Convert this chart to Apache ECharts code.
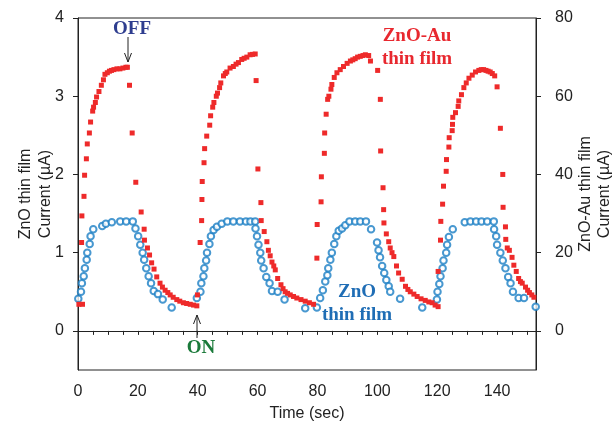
<!DOCTYPE html>
<html>
<head>
<meta charset="utf-8">
<title>ZnO / ZnO-Au photocurrent</title>
<script src="https://cdn.jsdelivr.net/npm/echarts@6/dist/echarts.min.js"></script>
<style>
  html, body { margin: 0; padding: 0; background: #fff; }
  #chart { width: 613px; height: 422px; }
</style>
</head>
<body>
<div id="chart"></div>
<script>
  // ZnO thin film, current in uA (left axis) : [time s, current]
  const znoPoints = [
    [0.1, 0.41], [1.0, 0.50], [1.3, 0.61], [1.9, 0.70], [2.3, 0.80], [2.9, 0.91], [3.1, 1.00],
    [3.9, 1.11], [4.2, 1.21], [5.1, 1.30], [8.1, 1.34], [9.3, 1.37], [11.3, 1.39], [14.1, 1.40],
    [16.1, 1.40], [18.3, 1.40], [19.2, 1.31], [20.1, 1.21], [20.8, 1.10], [21.6, 1.00], [22.1, 0.91],
    [22.8, 0.80], [23.6, 0.70], [24.4, 0.61], [25.3, 0.51], [26.7, 0.47], [28.3, 0.40], [31.3, 0.30],

    [39.7, 0.42], [40.9, 0.50], [41.2, 0.61], [41.9, 0.70], [42.2, 0.80], [42.8, 0.90], [43.1, 1.00],
    [43.9, 1.11], [44.4, 1.21], [45.3, 1.29], [46.4, 1.33], [48.0, 1.37], [49.9, 1.40], [51.9, 1.40],
    [54.1, 1.40], [56.1, 1.40], [57.6, 1.40], [59.2, 1.40], [59.3, 1.31], [59.8, 1.21], [60.3, 1.10],
    [60.9, 1.00], [61.2, 0.90], [62.0, 0.80], [62.9, 0.69], [64.0, 0.61], [64.8, 0.51], [66.7, 0.50],
    [69.0, 0.40], [75.9, 0.29],

    [79.8, 0.30], [80.9, 0.42], [81.8, 0.52], [82.6, 0.63], [83.3, 0.71], [83.6, 0.80], [84.3, 0.91],
    [84.8, 1.00], [85.6, 1.11], [86.3, 1.21], [87.1, 1.28], [88.2, 1.31], [89.3, 1.35], [90.7, 1.40],
    [92.6, 1.40], [94.3, 1.40], [96.2, 1.40], [97.9, 1.30], [99.9, 1.13], [100.4, 1.03], [100.9, 0.94],
    [101.6, 0.83], [102.3, 0.74], [103.0, 0.65], [103.8, 0.57], [104.3, 0.50], [107.6, 0.41], [115.0, 0.30],

    [119.9, 0.40], [120.1, 0.50], [120.7, 0.60], [121.1, 0.70], [121.8, 0.80], [122.1, 0.90], [123.0, 1.00],
    [123.3, 1.10], [123.9, 1.20], [125.2, 1.30], [129.2, 1.39], [131.1, 1.40], [133.0, 1.40], [134.8, 1.40],
    [136.7, 1.40], [138.9, 1.40], [139.0, 1.30], [139.7, 1.21], [140.0, 1.10], [141.1, 1.00], [141.9, 0.90],
    [142.8, 0.80], [143.7, 0.69], [144.5, 0.61], [145.3, 0.50], [147.2, 0.42], [149.0, 0.42], [152.9, 0.31]
  ]

  // ZnO-Au thin film, current in uA (right axis) : [time s, current]
  const znoAuPoints = [
    [0.3, 6.8], [1.5, 6.8], [1.2, 22.6], [1.3, 29.4], [2.0, 34.4], [2.2, 39.8], [2.8, 44.0], [3.1, 47.8],
    [3.8, 50.6], [4.2, 53.4], [4.9, 56.2], [5.2, 57.2], [5.8, 58.4], [6.2, 59.8], [7.0, 61.2], [7.8, 62.8],
    [8.5, 64.2], [9.0, 65.6], [9.8, 66.0], [10.5, 66.4], [11.2, 66.6], [12.0, 66.8], [13.0, 67.0],
    [14.0, 67.0], [15.0, 67.2], [16.0, 67.4], [16.5, 67.4],
    [17.2, 62.8], [18.1, 50.6], [19.3, 38.0], [21.1, 30.4], [22.1, 26.0], [22.2, 23.2], [23.2, 21.2],
    [23.9, 19.4], [24.6, 17.4], [25.4, 15.8], [26.3, 13.8], [27.4, 12.2], [28.2, 11.2], [29.1, 10.4],
    [30.0, 9.8], [30.8, 9.2], [31.8, 8.6], [33.0, 8.0], [34.0, 7.6], [35.2, 7.2], [36.3, 7.0],
    [37.5, 6.8], [38.6, 6.6], [39.7, 6.4],

    [39.9, 9.2], [40.8, 22.6], [41.3, 28.2], [41.4, 33.6], [41.5, 38.2], [42.1, 43.0], [42.3, 46.6],
    [43.0, 49.8], [44.0, 52.6], [44.3, 55.0], [45.0, 57.2], [45.4, 58.4], [46.2, 60.0], [46.6, 60.8],
    [47.3, 62.2], [47.7, 63.4], [48.6, 65.2], [49.2, 65.8], [49.7, 66.2], [50.8, 67.2], [51.9, 67.6],
    [52.8, 68.2], [53.6, 68.6], [54.7, 69.4], [55.5, 69.7], [56.4, 70.0], [57.5, 70.6], [58.3, 70.7],
    [59.2, 70.8],
    [59.5, 64.0], [60.1, 41.4], [61.1, 32.8], [61.2, 28.2], [62.2, 25.4], [63.1, 22.8], [63.6, 20.6],
    [64.2, 19.2], [64.8, 17.6], [65.4, 16.6], [65.9, 15.6], [66.7, 13.4], [67.8, 11.8], [68.5, 10.8],
    [69.2, 10.0], [70.0, 9.6], [70.9, 9.2], [72.0, 8.8], [73.1, 8.4], [74.5, 8.0], [75.9, 7.6],
    [77.3, 7.2], [78.7, 6.8],

    [79.8, 18.6], [79.9, 27.2], [81.2, 33.0], [81.3, 39.4], [82.3, 45.4], [82.4, 50.6], [82.9, 55.4],
    [83.4, 59.2], [83.8, 60.0], [84.5, 61.8], [84.8, 63.0], [85.6, 64.8], [86.5, 66.0], [87.6, 66.8],
    [88.7, 67.6], [89.9, 68.4], [91.0, 69.0], [91.8, 69.3], [92.6, 69.6], [93.4, 70.0], [94.3, 70.2],
    [95.2, 70.4], [96.0, 70.6], [97.1, 70.4], [97.7, 69.0],
    [100.1, 66.6], [101.0, 59.2], [101.1, 46.0], [101.9, 36.6], [102.1, 31.0], [102.2, 27.6],
    [103.0, 24.8], [103.8, 22.8], [104.3, 21.2], [104.9, 20.0], [105.5, 19.0], [106.4, 16.6],
    [107.1, 14.8], [108.3, 13.2], [109.4, 11.4], [110.2, 10.6], [111.0, 10.0], [112.2, 9.4],
    [113.3, 8.8], [114.6, 8.2], [116.0, 7.8], [117.2, 7.4], [118.3, 7.2], [119.3, 6.6], [120.3, 6.2],

    [120.3, 15.2], [121.1, 23.2], [121.2, 28.0], [121.8, 32.4], [122.1, 37.0], [123.0, 40.8],
    [123.1, 43.8], [123.9, 47.0], [124.0, 49.4], [125.0, 51.2], [125.1, 52.8], [125.2, 54.6],
    [126.1, 55.8], [127.0, 57.4], [127.2, 58.8], [128.1, 60.4], [128.9, 62.2], [129.7, 63.4],
    [130.6, 64.6], [131.7, 65.4], [132.8, 66.2], [133.9, 66.6], [134.7, 66.8], [135.5, 66.8],
    [136.3, 66.6], [137.0, 66.4], [137.7, 66.2], [138.4, 65.8], [139.2, 65.2],
    [140.0, 62.4], [141.1, 51.8], [141.9, 40.0], [142.0, 31.6], [142.8, 26.6], [142.9, 23.4],
    [143.4, 21.2], [144.1, 20.6], [145.0, 18.8], [145.6, 16.8], [146.4, 15.2], [147.2, 13.4],
    [147.8, 12.6], [148.4, 12.2], [149.5, 11.2], [150.2, 10.4], [150.8, 9.8], [151.6, 9.2], [152.3, 8.6]
  ]

  const timeLabels = [0, 20, 40, 60, 80, 100, 120, 140]
  const timeTicks = [0, 5, 10, 15, 20, 25, 30, 35, 40, 45, 50, 55, 60, 65, 70, 75, 80, 85, 90, 95,
    100, 105, 110, 115, 120, 125, 130, 135, 140, 145, 150]
  const znoTicks = [0, 1, 2, 3, 4]
  const znoAuTicks = [0, 20, 40, 60, 80]

  const axisColor = '#222'
  const labelFont = { fontFamily: 'Liberation Sans', fontSize: 16, color: '#222' }
  const noteFont = 'bold 19px "Liberation Serif"'

  function arrow(x, y1, y2) {
    const dir = y2 > y1 ? -1 : 1
    return [
      { type: 'line', shape: { x1: x, y1: y1, x2: x, y2: y2 }, style: { stroke: '#222', lineWidth: 1 } },
      { type: 'polyline', shape: { points: [[x - 3.5, y2 + dir * 9], [x, y2], [x + 3.5, y2 + dir * 9]] },
        style: { stroke: '#222', lineWidth: 1, fill: null } }
    ]
  }

  function note(text, x, y, color) {
    return {
      type: 'text', x: x, y: y,
      style: { text: text, font: noteFont, fill: color, align: 'center', verticalAlign: 'middle', lineHeight: 23 }
    }
  }

  const chart = echarts.init(document.getElementById('chart'))
  chart.setOption({
    animation: false,
    backgroundColor: '#fff',
    grid: {
      left: 78, right: 77, top: 18, bottom: 52,
      outerBoundsMode: 'none', containLabel: false,
      show: true, borderColor: axisColor, borderWidth: 1, backgroundColor: 'transparent'
    },
    xAxis: {
      type: 'value', min: 0, max: 153,
      name: 'Time (sec)', nameLocation: 'middle', nameGap: 36, nameMoveOverlap: false,
      nameTextStyle: labelFont,
      axisLine: { show: true, lineStyle: { color: axisColor } },
      axisTick: { show: true, inside: false, length: 4, customValues: timeTicks, lineStyle: { color: axisColor } },
      axisLabel: { ...labelFont, margin: 14, customValues: timeLabels },
      splitLine: { show: false }
    },
    yAxis: [{
      type: 'value', min: -0.5, max: 4, position: 'left',
      name: 'ZnO thin film\nCurrent (\u00b5A)', nameLocation: 'middle', nameRotate: 90, nameGap: 22,
      nameMoveOverlap: false,
      nameTextStyle: { ...labelFont, lineHeight: 20 },
      axisLine: { show: true, lineStyle: { color: axisColor } },
      axisTick: { show: true, inside: false, length: 5, customValues: znoTicks, lineStyle: { color: axisColor } },
      axisLabel: { ...labelFont, margin: 14, customValues: znoTicks },
      splitLine: { show: false }
    }, {
      type: 'value', min: -10, max: 80, position: 'right',
      name: 'ZnO-Au thin film\nCurrent (\u00b5A)', nameLocation: 'middle', nameRotate: 90, nameGap: 40,
      nameMoveOverlap: false,
      nameTextStyle: { ...labelFont, lineHeight: 19 },
      axisLine: { show: true, lineStyle: { color: axisColor } },
      axisTick: { show: true, inside: false, length: 5, customValues: znoAuTicks, lineStyle: { color: axisColor } },
      axisLabel: { ...labelFont, margin: 19, customValues: znoAuTicks },
      splitLine: { show: false }
    }],
    series: [{
      name: 'ZnO thin film',
      type: 'scatter',
      yAxisIndex: 0,
      symbol: 'circle',
      symbolSize: 6.5,
      itemStyle: { color: '#fff', borderColor: '#1a7ec4', borderWidth: 2 },
      data: znoPoints
    }, {
      name: 'ZnO-Au thin film',
      type: 'scatter',
      yAxisIndex: 1,
      symbol: 'rect',
      symbolSize: 5,
      itemStyle: { color: '#ee2a2a', opacity: 1 },
      data: znoAuPoints
    }],
    graphic: [
      note('OFF', 132, 29, '#2e3d8f'),
      ...arrow(128, 37, 62),
      note('ON', 201, 348, '#1b7a3a'),
      ...arrow(197, 338, 315),
      note('ZnO-Au\nthin film', 417, 48, '#e8282f'),
      note('ZnO\nthin film', 357, 304, '#1f6db5')
    ]
  })
</script>
</body>
</html>
